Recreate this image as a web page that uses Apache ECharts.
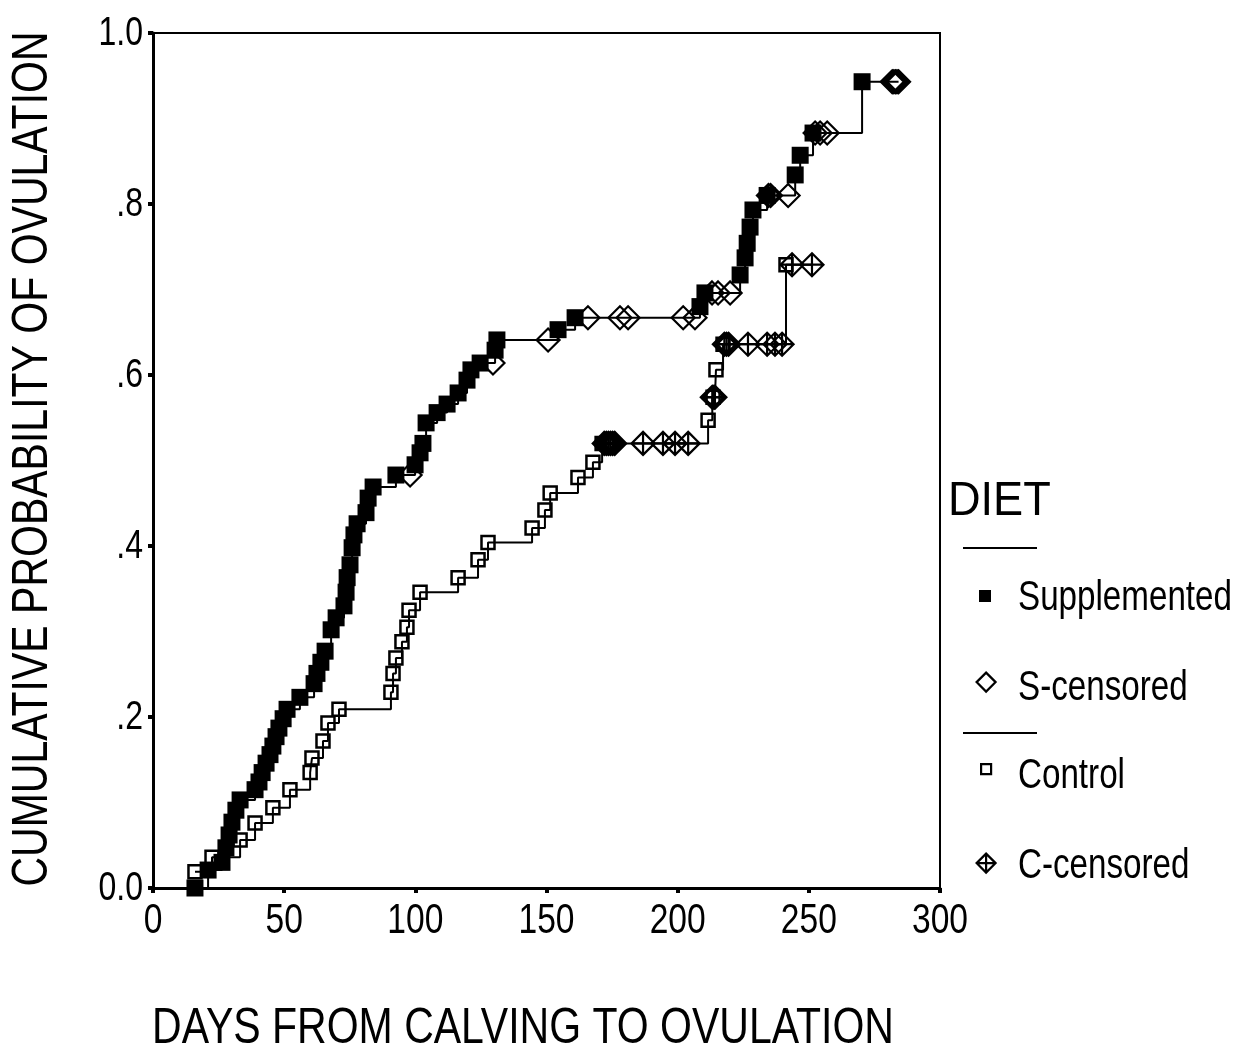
<!DOCTYPE html>
<html>
<head>
<meta charset="utf-8">
<script src="https://cdn.jsdelivr.net/npm/echarts@6/dist/echarts.min.js"></script>
<style>
  html, body { margin: 0; padding: 0; background: #fff; }
  #chart { width: 1237px; height: 1062px; }
</style>
</head>
<body>
<div id="chart"></div>
<script>
// Kaplan-Meier style cumulative probability of ovulation by diet group.

// Supplemented group: ovulation events (day, cumulative probability)
const suppEventDays = [16, 21, 26.3, 27.8, 29, 30.1, 31.6, 33.2, 38.9, 40.4, 41.6, 43.1, 44.6, 45.7, 46.9, 48, 49.6, 51.1, 56, 61.4, 62.5, 64, 65.6, 67.9, 69.8, 72.8, 73.6, 74, 75.1, 75.9, 76.6, 77.8, 81.2, 82, 83.9, 92.6, 99.9, 101.8, 102.9, 104.1, 108.3, 112.1, 116.3, 119.7, 121.2, 124.7, 130.4, 131.1, 154.4, 160.9, 208.5, 210.4, 223.8, 225.7, 226.5, 227.6, 228.7, 234.1, 244.8, 246.7, 251.6, 270.3];
const suppEventProb = [0, 0.021, 0.030, 0.047, 0.062, 0.077, 0.091, 0.103, 0.115, 0.124, 0.135, 0.146, 0.156, 0.166, 0.177, 0.187, 0.198, 0.209, 0.223, 0.239, 0.251, 0.264, 0.277, 0.302, 0.316, 0.330, 0.346, 0.363, 0.378, 0.398, 0.413, 0.426, 0.439, 0.456, 0.469, 0.483, 0.495, 0.509, 0.520, 0.544, 0.556, 0.566, 0.579, 0.594, 0.606, 0.614, 0.629, 0.641, 0.653, 0.667, 0.680, 0.696, 0.717, 0.737, 0.754, 0.773, 0.793, 0.810, 0.834, 0.857, 0.883, 0.943];

// Supplemented group: censored animals
const suppCensorDays = [98, 129.6, 150.6, 165.8, 178, 181.1, 202.1, 206.6, 213.1, 215.4, 220, 234.6, 235.4, 242.1, 252.4, 254.3, 257, 281.8, 282.4, 283, 283.6, 284.2];
const suppCensorProb = [0.483, 0.614, 0.641, 0.667, 0.667, 0.667, 0.667, 0.667, 0.696, 0.696, 0.696, 0.810, 0.810, 0.810, 0.883, 0.883, 0.883, 0.943, 0.943, 0.943, 0.943, 0.943];

// Control group: ovulation events
const ctrlEventDays = [16, 22.5, 33.2, 38.9, 45.7, 52.2, 59.9, 60.6, 64.8, 66.7, 70.9, 90.7, 91.5, 92.6, 94.9, 96.8, 97.6, 101.8, 116.3, 123.9, 127.7, 144.5, 149.4, 151.4, 162, 167.7, 171.2, 211.6, 213.5, 214.6, 217.3, 241.3];
const ctrlEventProb = [0.019, 0.036, 0.056, 0.076, 0.094, 0.115, 0.135, 0.152, 0.172, 0.193, 0.209, 0.229, 0.251, 0.269, 0.288, 0.305, 0.325, 0.346, 0.363, 0.384, 0.404, 0.421, 0.442, 0.462, 0.480, 0.498, 0.520, 0.547, 0.574, 0.606, 0.636, 0.729];

// Control group: censored animals
const ctrlCensorDays = [172, 172.8, 173.6, 174.4, 175.2, 176, 186.8, 194.4, 199, 204, 213.2, 213.8, 214.2, 217.8, 218.6, 219.4, 226.8, 234.1, 237.1, 239.8, 243.6, 251.2];
const ctrlCensorProb = [0.520, 0.520, 0.520, 0.520, 0.520, 0.520, 0.520, 0.520, 0.520, 0.520, 0.574, 0.574, 0.574, 0.636, 0.636, 0.636, 0.636, 0.636, 0.636, 0.636, 0.729, 0.729];

// Axis ticks
const xTicks = [0, 50, 100, 150, 200, 250, 300];
const yTicks = [0, 0.2, 0.4, 0.6, 0.8, 1.0];
const yTickLabels = ['0.0', '.2', '.4', '.6', '.8', '1.0'];

// Legend entries
const legendNames = ['Supplemented', 'S-censored', 'Control', 'C-censored'];

// Liberation Sans, horizontally condensed for a narrow-sans look
const FONT = '"Liberation Sans", Arial, sans-serif';
const NARROW = 0.8;

function pairs(xs, ys) { return xs.map((x, i) => [x, ys[i]]); }

// Step path runs through events and censored points in time order
function stepPath(ed, ep, cd, cp) {
  const pts = pairs(ed, ep).concat(pairs(cd, cp));
  pts.sort((a, b) => a[0] - b[0] || a[1] - b[1]);
  return pts;
}

const crossDiamond = 'path://M10,0 L20,10 L10,20 L0,10 Z M10,0 L10,20 M0,10 L20,10';

const chart = echarts.init(document.getElementById('chart'), null, { renderer: 'canvas' });

const hollow = { color: 'rgba(0,0,0,0)', borderColor: '#000', borderWidth: 2.2, opacity: 1 };

function legendIcon(name, icon, size, style, centerY) {
  return {
    show: true,
    data: [{ name: name, icon: icon, itemStyle: style }],
    left: 985 - size / 2,
    top: centerY - size / 2,
    padding: 0,
    itemWidth: size,
    itemHeight: size,
    selectedMode: false,
    formatter: () => '',
    textStyle: { fontSize: 1 }
  };
}

function narrowText(text, x, y, size, align, vAlign, extra) {
  return Object.assign({
    type: 'text', x: x, y: y, scaleX: NARROW, silent: true,
    style: { text: text, font: size + 'px ' + FONT, fill: '#000', align: align, verticalAlign: vAlign }
  }, extra || {});
}

chart.setOption({
  animation: false,
  backgroundColor: '#fff',
  grid: {
    left: 153, top: 33, right: 297, bottom: 174,
    show: true, borderColor: '#000', borderWidth: 2, backgroundColor: 'transparent'
  },
  xAxis: {
    type: 'value', min: 0, max: 300, interval: 50,
    axisLine: { show: true, onZero: false, lineStyle: { color: '#000', width: 3 } },
    axisTick: { show: true, length: 5, lineStyle: { color: '#000', width: 4 } },
    axisLabel: { show: false },
    splitLine: { show: false }
  },
  yAxis: {
    type: 'value', min: 0, max: 1, interval: 0.2,
    axisLine: { show: true, onZero: false, lineStyle: { color: '#000', width: 3 } },
    axisTick: { show: true, length: 5, lineStyle: { color: '#000', width: 4 } },
    axisLabel: { show: false },
    splitLine: { show: false }
  },
  legend: [
    legendIcon(legendNames[0], 'rect', 12, { color: '#000', opacity: 1 }, 596),
    legendIcon(legendNames[1], 'diamond', 19, hollow, 681),
    legendIcon(legendNames[2], 'rect', 10, hollow, 768),
    legendIcon(legendNames[3], crossDiamond, 19, hollow, 862)
  ],
  series: [
    {
      name: 'Supplemented line', type: 'line', step: 'end', showSymbol: false, silent: true,
      data: stepPath(suppEventDays, suppEventProb, suppCensorDays, suppCensorProb),
      lineStyle: { color: '#000', width: 2 }, z: 2
    },
    {
      name: 'Control line', type: 'line', step: 'end', showSymbol: false, silent: true,
      data: stepPath(ctrlEventDays, ctrlEventProb, ctrlCensorDays, ctrlCensorProb),
      lineStyle: { color: '#000', width: 2 }, z: 2
    },
    {
      name: legendNames[0], type: 'scatter', symbol: 'rect', symbolSize: 17,
      data: pairs(suppEventDays, suppEventProb),
      itemStyle: { color: '#000', opacity: 1 }, z: 3
    },
    {
      name: legendNames[1], type: 'scatter', symbol: 'diamond', symbolSize: 23,
      data: pairs(suppCensorDays, suppCensorProb),
      itemStyle: hollow, z: 4
    },
    {
      name: legendNames[2], type: 'scatter', symbol: 'rect', symbolSize: 13,
      data: pairs(ctrlEventDays, ctrlEventProb),
      itemStyle: { color: 'rgba(0,0,0,0)', borderColor: '#000', borderWidth: 2.5, opacity: 1 }, z: 3
    },
    {
      name: legendNames[3], type: 'scatter', symbol: crossDiamond, symbolSize: 23,
      data: pairs(ctrlCensorDays, ctrlCensorProb),
      itemStyle: hollow, z: 4
    }
  ]
});

// Tick labels, titles and legend text, placed through the axis scales
const graphics = [];
xTicks.forEach(v => {
  const px = chart.convertToPixel({ xAxisIndex: 0 }, v);
  graphics.push(narrowText(String(v), px, 900, 42, 'center', 'top'));
});
yTicks.forEach((v, i) => {
  const py = chart.convertToPixel({ yAxisIndex: 0 }, v);
  graphics.push(narrowText(yTickLabels[i], 143, py + 1, 40, 'right', 'middle'));
});
graphics.push(narrowText('DIET', 948, 502, 48, 'left', 'middle', { scaleX: 0.94 }));
graphics.push({ type: 'line', silent: true, shape: { x1: 963, y1: 548, x2: 1037, y2: 548 }, style: { stroke: '#000', lineWidth: 2 } });
graphics.push({ type: 'line', silent: true, shape: { x1: 963, y1: 733, x2: 1037, y2: 733 }, style: { stroke: '#000', lineWidth: 2 } });
[598, 688, 776, 866].forEach((y, i) => {
  graphics.push(narrowText(legendNames[i], 1018, y, 42, 'left', 'middle', { scaleX: 0.79 }));
});
graphics.push(narrowText('DAYS FROM CALVING TO OVULATION', 523, 1029, 50, 'center', 'middle', { scaleX: 0.82 }));
graphics.push(narrowText('CUMULATIVE PROBABILITY OF OVULATION', 33, 459, 50, 'center', 'middle',
  { scaleX: 0.82, rotation: Math.PI / 2 }));
chart.setOption({ graphic: graphics });
</script>
</body>
</html>
